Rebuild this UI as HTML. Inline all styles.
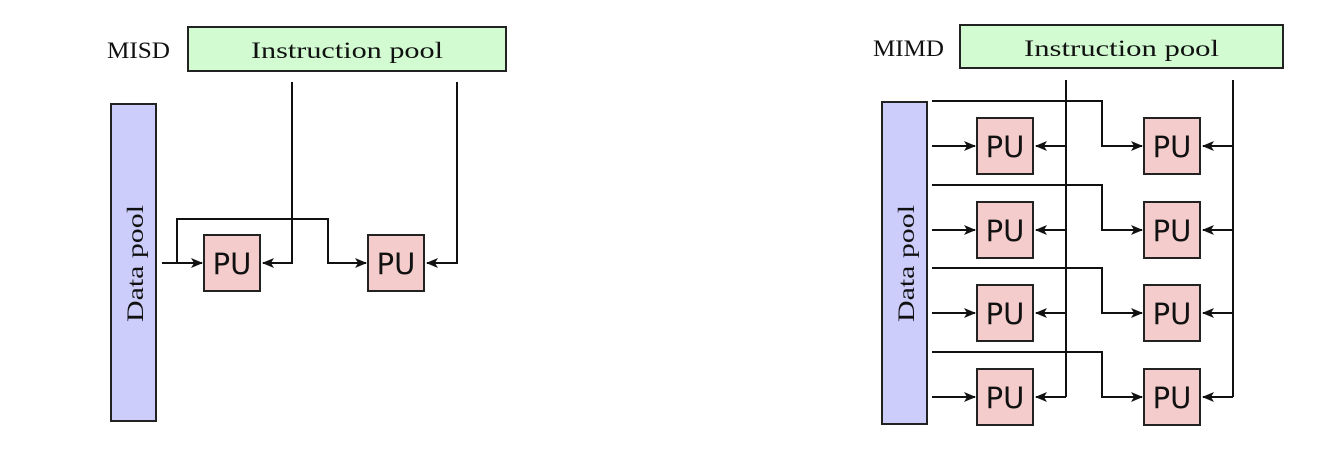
<!DOCTYPE html>
<html><head><meta charset="utf-8"><style>
html,body{margin:0;padding:0;background:#fff;width:1328px;height:454px;overflow:hidden}
svg{display:block}
.s{font-family:"Liberation Serif","DejaVu Serif",serif;fill:#111}
.pu{font-family:"DejaVu Sans","Liberation Sans",sans-serif;font-size:29px;fill:#111}
</style></head><body>
<svg width="1328" height="454" viewBox="0 0 1328 454" xmlns="http://www.w3.org/2000/svg">
<defs>
<marker id="a" markerWidth="12" markerHeight="10" refX="11" refY="5" orient="auto" markerUnits="userSpaceOnUse">
<path d="M0,0 L12,5 L0,10 L3,5 z" fill="#111"/></marker>
</defs>
<g stroke="#222" stroke-width="2">
<rect x="188" y="27" width="318" height="44" fill="#d2fbd2"/>
<rect x="111" y="104" width="45" height="317" fill="#cccdfb"/>
<rect x="204" y="235" width="56" height="56" fill="#f4cccc"/>
<rect x="368" y="235" width="56" height="56" fill="#f4cccc"/>
</g>
<g stroke="#111" stroke-width="2" fill="none">
<path d="M292,82 V263 H263" marker-end="url(#a)"/>
<path d="M457,82 V263 H427" marker-end="url(#a)"/>
<path d="M162,263 H202" marker-end="url(#a)"/>
<path d="M177,263 V219 H328 V263 H366" marker-end="url(#a)"/>
</g>
<text class="s" x="107" y="58" font-size="23" textLength="63" lengthAdjust="spacingAndGlyphs">MISD</text>
<text class="s" x="251" y="58" font-size="23" textLength="192" lengthAdjust="spacingAndGlyphs">Instruction pool</text>
<text class="s" transform="translate(143,322) rotate(-90)" font-size="23" textLength="117" lengthAdjust="spacingAndGlyphs">Data pool</text>
<text class="pu" x="232" y="274" text-anchor="middle">PU</text>
<text class="pu" x="396" y="274" text-anchor="middle">PU</text>

<g stroke="#222" stroke-width="2">
<rect x="960" y="25" width="323" height="43" fill="#d2fbd2"/>
<rect x="882" y="102" width="45" height="322" fill="#cccdfb"/>
<rect x="977" y="118" width="56" height="56" fill="#f4cccc"/>
<rect x="1144" y="118" width="56" height="56" fill="#f4cccc"/>
<rect x="977" y="202" width="56" height="56" fill="#f4cccc"/>
<rect x="1144" y="202" width="56" height="56" fill="#f4cccc"/>
<rect x="977" y="285" width="56" height="56" fill="#f4cccc"/>
<rect x="1144" y="285" width="56" height="56" fill="#f4cccc"/>
<rect x="977" y="369" width="56" height="56" fill="#f4cccc"/>
<rect x="1144" y="369" width="56" height="56" fill="#f4cccc"/>
</g>
<g stroke="#111" stroke-width="2" fill="none">
<path d="M1066,80 V397"/>
<path d="M1233,80 V397"/>
<path d="M1066,146 H1036" marker-end="url(#a)"/>
<path d="M1066,230 H1036" marker-end="url(#a)"/>
<path d="M1066,313 H1036" marker-end="url(#a)"/>
<path d="M1066,397 H1036" marker-end="url(#a)"/>
<path d="M1233,146 H1203" marker-end="url(#a)"/>
<path d="M1233,230 H1203" marker-end="url(#a)"/>
<path d="M1233,313 H1203" marker-end="url(#a)"/>
<path d="M1233,397 H1203" marker-end="url(#a)"/>
<path d="M932,146 H975" marker-end="url(#a)"/>
<path d="M932,230 H975" marker-end="url(#a)"/>
<path d="M932,313 H975" marker-end="url(#a)"/>
<path d="M932,397 H975" marker-end="url(#a)"/>
<path d="M932,101 H1102 V146 H1142" marker-end="url(#a)"/>
<path d="M932,185 H1102 V230 H1142" marker-end="url(#a)"/>
<path d="M932,268 H1102 V313 H1142" marker-end="url(#a)"/>
<path d="M932,352 H1102 V397 H1142" marker-end="url(#a)"/>
</g>
<text class="s" x="873" y="56" font-size="23" textLength="71" lengthAdjust="spacingAndGlyphs">MIMD</text>
<text class="s" x="1024" y="56" font-size="23" textLength="195" lengthAdjust="spacingAndGlyphs">Instruction pool</text>
<text class="s" transform="translate(914,322) rotate(-90)" font-size="23" textLength="117" lengthAdjust="spacingAndGlyphs">Data pool</text>
<text class="pu" x="1005" y="157" text-anchor="middle">PU</text>
<text class="pu" x="1172" y="157" text-anchor="middle">PU</text>
<text class="pu" x="1005" y="241" text-anchor="middle">PU</text>
<text class="pu" x="1172" y="241" text-anchor="middle">PU</text>
<text class="pu" x="1005" y="324" text-anchor="middle">PU</text>
<text class="pu" x="1172" y="324" text-anchor="middle">PU</text>
<text class="pu" x="1005" y="408" text-anchor="middle">PU</text>
<text class="pu" x="1172" y="408" text-anchor="middle">PU</text>
</svg>
</body></html>
